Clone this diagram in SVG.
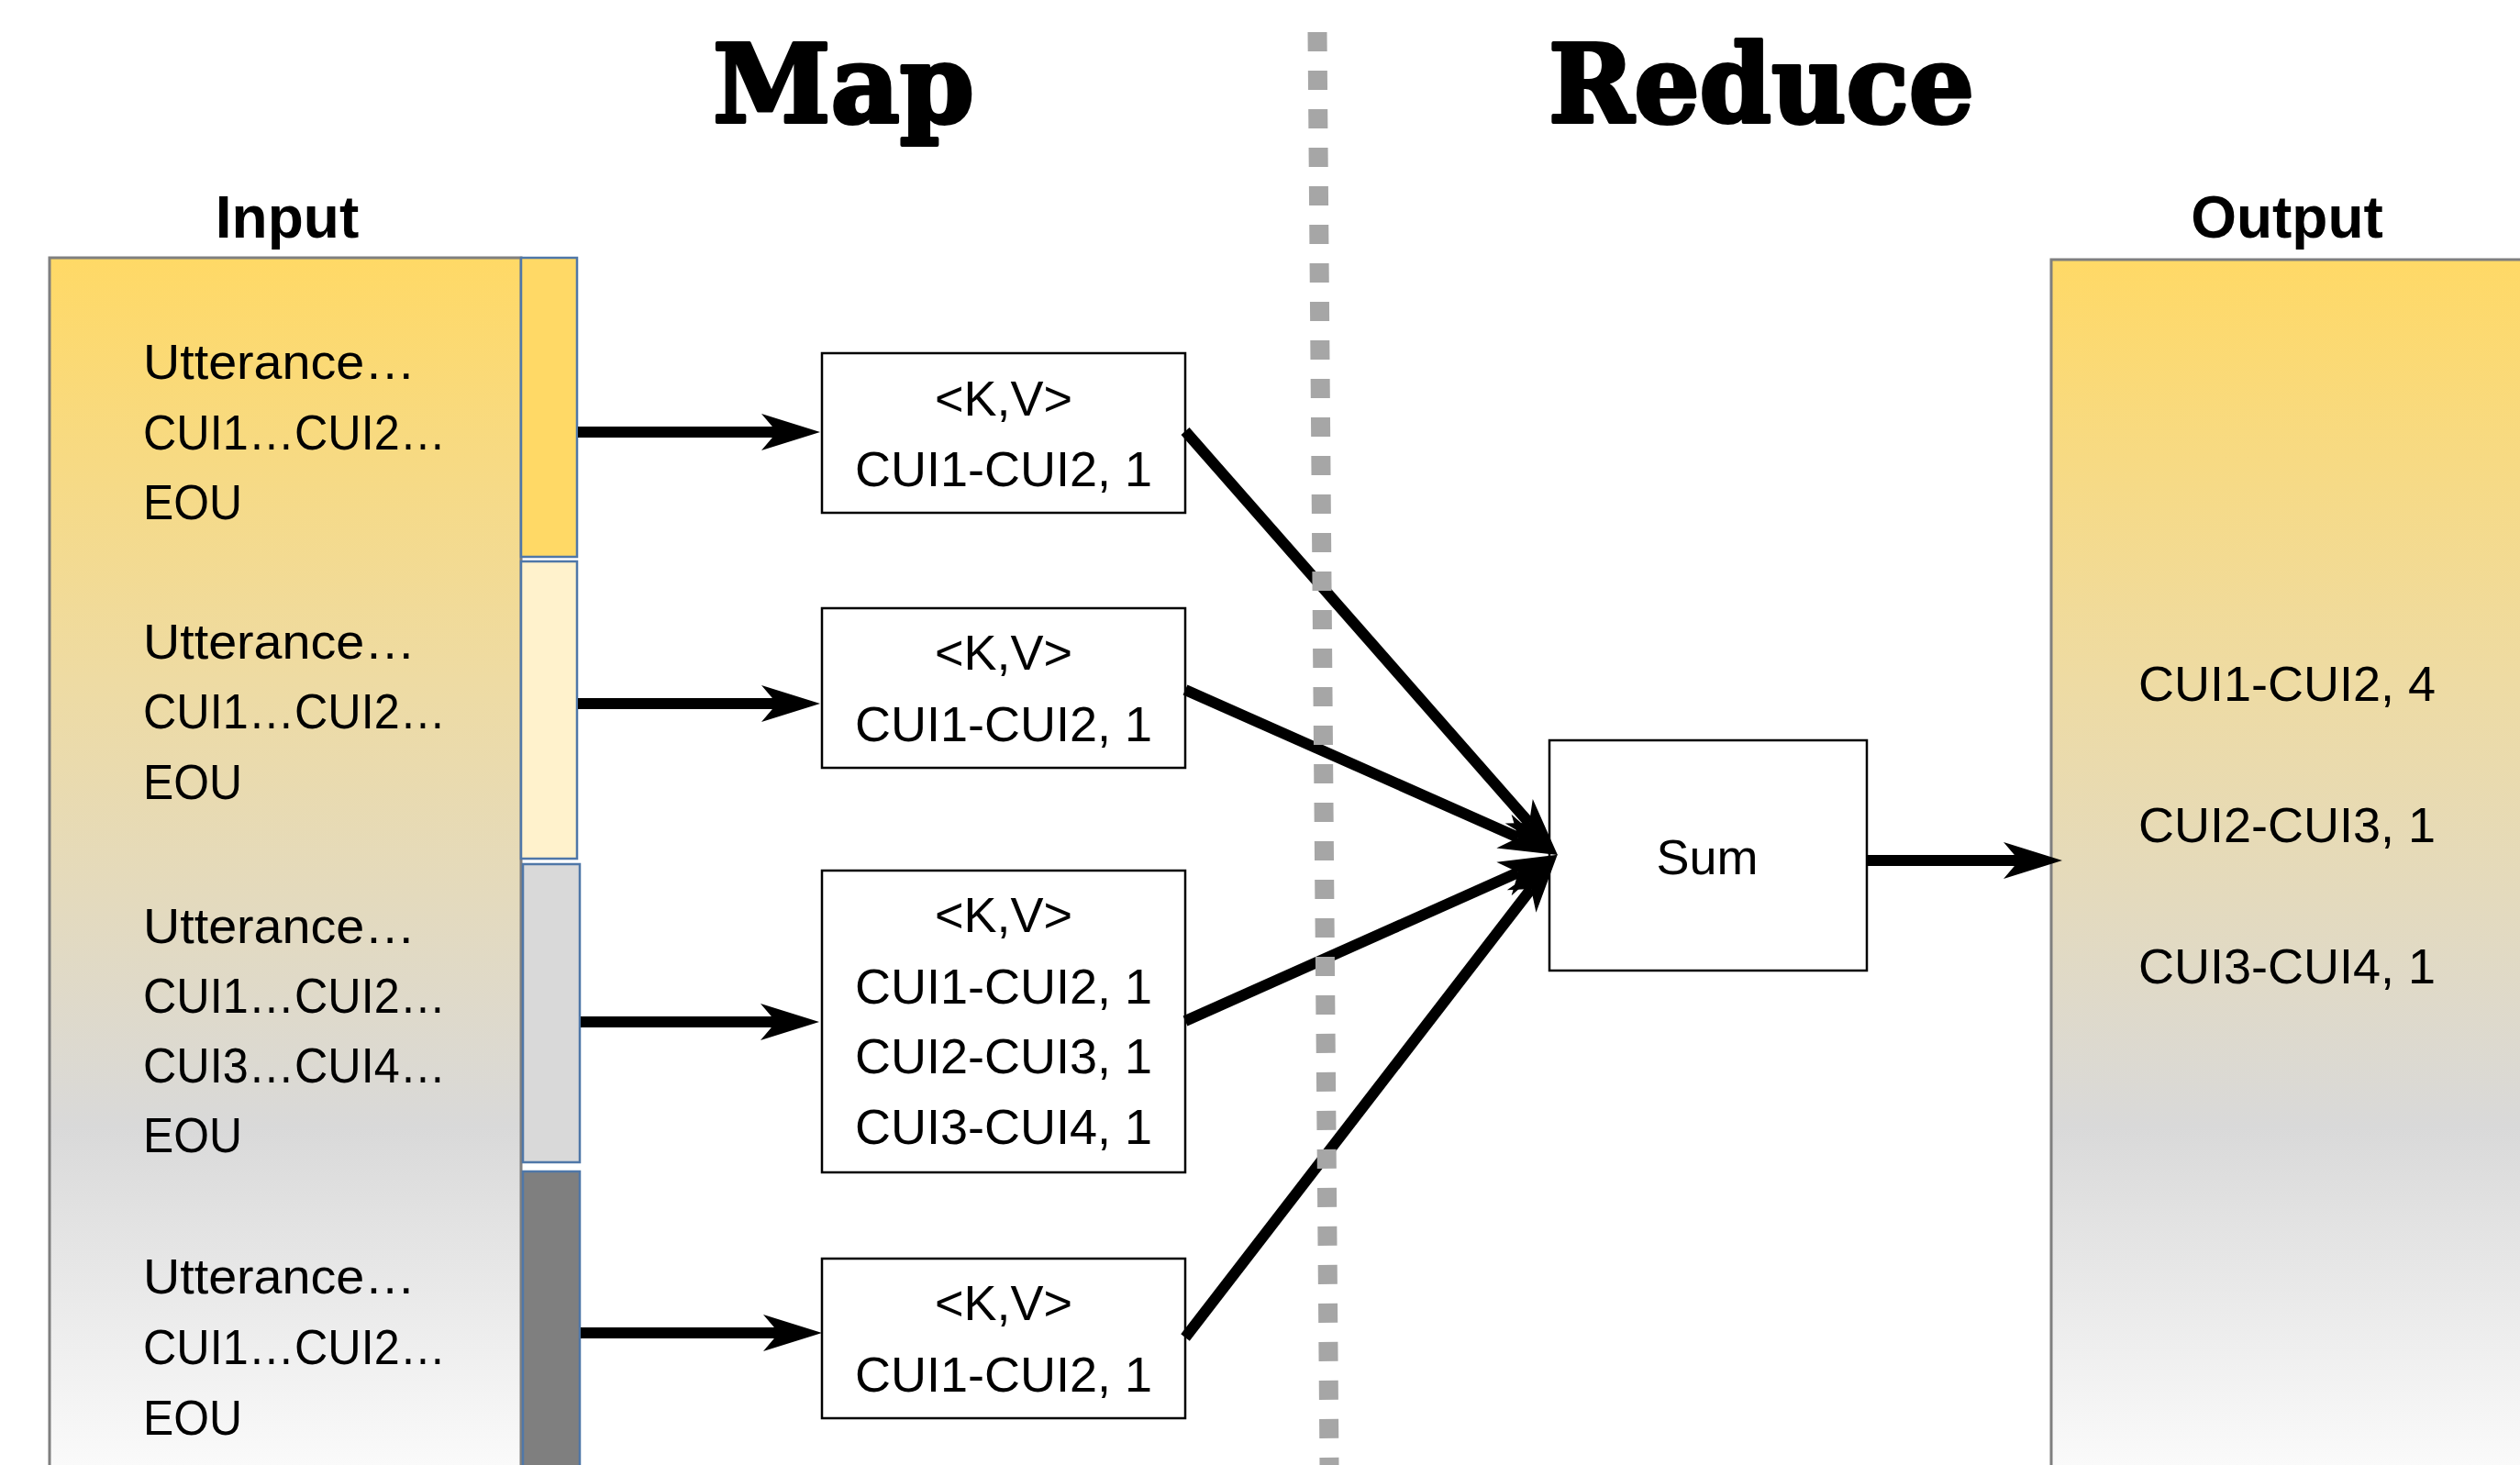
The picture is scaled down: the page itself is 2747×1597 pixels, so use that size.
<svg xmlns="http://www.w3.org/2000/svg" width="2747" height="1597" viewBox="0 0 2747 1597">
<defs>
<style>
.t{font-family:"Liberation Sans",Arial,sans-serif;font-size:54px;fill:#000}
.c{text-anchor:middle}
.hdr{font-family:"Liberation Sans",Arial,sans-serif;font-size:64px;font-weight:bold;fill:#000;text-anchor:middle}
.title{font-family:"DejaVu Serif","Liberation Serif",serif;font-size:118px;font-weight:900;fill:#000;stroke:#000;stroke-width:4;stroke-linejoin:round}
.box{fill:#fff;stroke:#000;stroke-width:2.5}
.strip{stroke:#4F77A8;stroke-width:2.5}
.big{stroke:#7F7F7F;stroke-width:3}
.conn{stroke:#000;stroke-width:12;fill:none}
</style>
<linearGradient id="grad" gradientUnits="userSpaceOnUse" x1="0" y1="281" x2="0" y2="1597">
<stop offset="0" stop-color="#FFD966"/>
<stop offset="0.35" stop-color="#EEDBA3"/>
<stop offset="0.72" stop-color="#D9D9D9"/>
<stop offset="1" stop-color="#FAFAFA"/>
</linearGradient>
<marker id="ah" markerUnits="userSpaceOnUse" markerWidth="66" markerHeight="42" refX="17" refY="21" orient="auto">
<path d="M0,1 L64,21 L0,41 L17,21 Z" fill="#000"/>
</marker>
</defs>
<rect width="2747" height="1597" fill="#fff"/>

<g id="titles">
<text class="title" x="777" y="133" textLength="285" lengthAdjust="spacingAndGlyphs">Map</text>
<text class="title" x="1688" y="133" textLength="464" lengthAdjust="spacingAndGlyphs">Reduce</text>
<text class="hdr" x="313" y="259">Input</text>
<text class="hdr" x="2493" y="259">Output</text>
</g>

<g id="input">
<rect class="big" x="54" y="281" width="514" height="1420" fill="url(#grad)"/>
<rect class="strip" x="568" y="281" width="61" height="326" fill="#FFD966"/>
<rect class="strip" x="568" y="612" width="61" height="324" fill="#FFF2CC"/>
<rect class="strip" x="570" y="942" width="62" height="325" fill="#D9D9D9"/>
<rect class="strip" x="570" y="1277" width="62" height="420" fill="#7F7F7F"/>
<text class="t" x="156" y="413" textLength="297" lengthAdjust="spacingAndGlyphs">Utterance…</text>
<text class="t" x="156" y="490" textLength="330" lengthAdjust="spacingAndGlyphs">CUI1…CUI2…</text>
<text class="t" x="156" y="566" textLength="108" lengthAdjust="spacingAndGlyphs">EOU</text>
<text class="t" x="156" y="718" textLength="297" lengthAdjust="spacingAndGlyphs">Utterance…</text>
<text class="t" x="156" y="794" textLength="330" lengthAdjust="spacingAndGlyphs">CUI1…CUI2…</text>
<text class="t" x="156" y="871" textLength="108" lengthAdjust="spacingAndGlyphs">EOU</text>
<text class="t" x="156" y="1028" textLength="297" lengthAdjust="spacingAndGlyphs">Utterance…</text>
<text class="t" x="156" y="1104" textLength="330" lengthAdjust="spacingAndGlyphs">CUI1…CUI2…</text>
<text class="t" x="156" y="1180" textLength="330" lengthAdjust="spacingAndGlyphs">CUI3…CUI4…</text>
<text class="t" x="156" y="1256" textLength="108" lengthAdjust="spacingAndGlyphs">EOU</text>
<text class="t" x="156" y="1410" textLength="297" lengthAdjust="spacingAndGlyphs">Utterance…</text>
<text class="t" x="156" y="1487" textLength="330" lengthAdjust="spacingAndGlyphs">CUI1…CUI2…</text>
<text class="t" x="156" y="1564" textLength="108" lengthAdjust="spacingAndGlyphs">EOU</text>
</g>

<g id="kv1">
<rect class="box" x="896" y="385" width="396" height="174"/>
<text class="t c" x="1094" y="453">&lt;K,V&gt;</text>
<text class="t c" x="1094" y="530">CUI1-CUI2, 1</text>
</g>
<g id="kv2">
<rect class="box" x="896" y="663" width="396" height="174"/>
<text class="t c" x="1094" y="730">&lt;K,V&gt;</text>
<text class="t c" x="1094" y="808">CUI1-CUI2, 1</text>
</g>
<g id="kv3">
<rect class="box" x="896" y="949" width="396" height="329"/>
<text class="t c" x="1094" y="1016">&lt;K,V&gt;</text>
<text class="t c" x="1094" y="1094">CUI1-CUI2, 1</text>
<text class="t c" x="1094" y="1170">CUI2-CUI3, 1</text>
<text class="t c" x="1094" y="1247">CUI3-CUI4, 1</text>
</g>
<g id="kv4">
<rect class="box" x="896" y="1372" width="396" height="174"/>
<text class="t c" x="1094" y="1439">&lt;K,V&gt;</text>
<text class="t c" x="1094" y="1517">CUI1-CUI2, 1</text>
</g>

<g id="sum">
<rect class="box" x="1689" y="807" width="346" height="251"/>
<text class="t c" x="1861" y="953">Sum</text>
</g>

<g id="output">
<rect class="big" x="2236" y="283" width="530" height="1420" fill="url(#grad)"/>
<text class="t" x="2331" y="764">CUI1-CUI2, 4</text>
<text class="t" x="2331" y="918">CUI2-CUI3, 1</text>
<text class="t" x="2331" y="1072">CUI3-CUI4, 1</text>
</g>

<g id="connectors">
<line class="conn" x1="630" y1="471" x2="847" y2="471" marker-end="url(#ah)"/>
<line class="conn" x1="630" y1="767" x2="847" y2="767" marker-end="url(#ah)"/>
<line class="conn" x1="633" y1="1114" x2="846" y2="1114" marker-end="url(#ah)"/>
<line class="conn" x1="633" y1="1453" x2="849" y2="1453" marker-end="url(#ah)"/>
<line class="conn" x1="1292" y1="470" x2="1667" y2="897" marker-end="url(#ah)"/>
<line class="conn" x1="1292" y1="752" x2="1655" y2="913" marker-end="url(#ah)"/>
<line class="conn" x1="1292" y1="1113" x2="1655" y2="951" marker-end="url(#ah)"/>
<line class="conn" x1="1292" y1="1458" x2="1669" y2="969" marker-end="url(#ah)"/>
<line class="conn" x1="2035" y1="938" x2="2201" y2="938" marker-end="url(#ah)"/>
</g>

<g id="separator">
<line x1="1436" y1="35" x2="1449" y2="1597" stroke="#A6A6A6" stroke-width="21" stroke-dasharray="21 21"/>
</g>
</svg>
